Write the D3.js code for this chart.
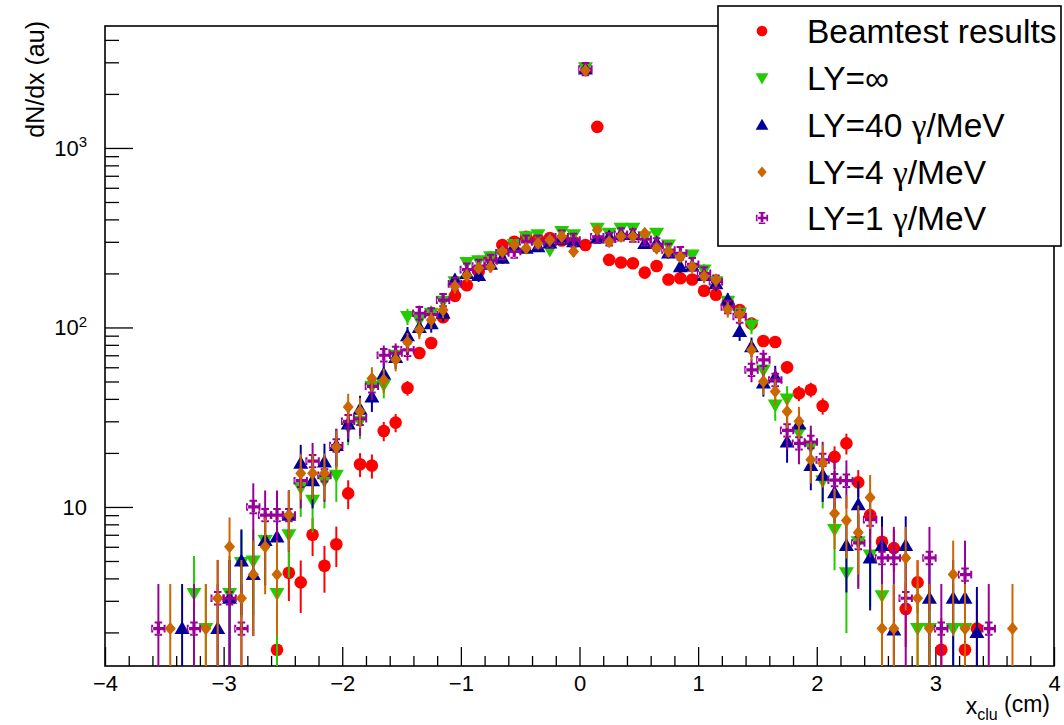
<!DOCTYPE html>
<html><head><meta charset="utf-8">
<script src="https://cdn.jsdelivr.net/npm/d3@7"></script>
<style>
body{margin:0;background:#fff}
svg{display:block}
text{font-family:"Liberation Sans",Arial,Helvetica,sans-serif;fill:#000}
</style>
</head><body>
<svg id="chart" width="1064" height="725"></svg>
<script>
// ---------------- DATA ----------------
const binCenters = [
 -3.55,-3.45,-3.35,-3.25,-3.15,-3.05,-2.95,-2.85,-2.75,-2.65,
 -2.55,-2.45,-2.35,-2.25,-2.15,-2.05,-1.95,-1.85,-1.75,-1.65,
 -1.55,-1.45,-1.35,-1.25,-1.15,-1.05,-0.95,-0.85,-0.75,-0.65,
 -0.55,-0.45,-0.35,-0.25,-0.15,-0.05, 0.05, 0.15, 0.25, 0.35,
  0.45, 0.55, 0.65, 0.75, 0.85, 0.95, 1.05, 1.15, 1.25, 1.35,
  1.45, 1.55, 1.65, 1.75, 1.85, 1.95, 2.05, 2.15, 2.25, 2.35,
  2.45, 2.55, 2.65, 2.75, 2.85, 2.95, 3.05, 3.15, 3.25, 3.35,
  3.45, 3.55, 3.65];

const beamtest = [
 null,null,null,null,null,null,null,null,null,null,
 1.6,4.3,3.8,7.0,4.7,6.2,11.9,17.3,17.0,26.5,
 29.5,46,72,82,114,150,172,205,245,288,
 300,320,310,315,305,300,288,1310,238,230,
 228,202,220,185,188,185,160,152,138,125,
 105,84,83,60,43,45,36.5,19,22.6,13.7,
 9.0,6.4,5.9,2.7,3.8,null,1.6,null,1.6,2.1,
 null,null,null];

const lyInfinite = [
 null,null,null,3.3,2.1,null,3.3,4.9,5,6.5,
 3.3,7,12.8,10.9,14,15,28,30,47,48,
 70,115,110,120,140,180,230,235,248,255,
 290,320,328,270,342,328,2800,357,335,357,
 357,320,335,288,245,253,209,180,140,120,
 103,58,37,40,26,21.7,14,7.5,4.3,6.4,
 5.4,3.2,null,null,2.1,2.1,null,2.1,2.1,null,
 null,null,null];

const ly40 = [
 null,null,2.1,null,null,2.1,3.1,5,4.2,6.5,
 6.8,9,17.5,14,17.8,22,29,35,41,55,
 68,90,100,105,120,184,200,195,225,243,
 285,276,282,295,310,300,2750,315,320,330,
 330,294,295,260,218,220,195,175,142,95,
 78,49,53,23,29,17,15,12,6.1,10.3,
 5.2,6.1,2.06,6.1,null,3.1,null,3.1,3.1,2.0,
 null,null,null];

const ly4 = [
 null,2.1,null,null,2.1,3.1,6,3.1,4.2,6,
 4.2,9,15.4,15.4,15.4,21.5,36,34,52,51,
 66,83,97,110,125,169,195,214,218,265,
 288,276,294,307,321,265,2700,349,300,321,
 321,335,276,265,248,218,192,184,126,118,
 75,50,44,34,30,18.3,17.5,9.2,8.4,7.2,
 11.3,2.1,2.1,5.2,3.1,2.1,null,4.2,2.1,null,
 null,null,2.1];

const ly1 = [
 2.1,null,null,2.1,null,3.1,3.1,2.1,10,9,
 9,9,14,18,15,22,30,31,47,70,
 72,75,120,118,142,175,210,220,235,260,
 265,300,300,300,320,307,2750,320,310,330,
 325,310,290,270,259,225,200,180,130,115,
 58,66,51,26.7,22.6,23,18.3,14.1,14,6.3,
 8.5,5.2,5.2,3.1,null,5.2,2.1,null,4.2,null,
 2.1,null,null];

const seriesNames = [
  ["Beamtest results"],
  ["LY=\u221E"],
  ["LY=40 ", "\u03B3", "/MeV"],
  ["LY=4 ", "\u03B3", "/MeV"],
  ["LY=1 ", "\u03B3", "/MeV"]];
const seriesColors = ["#ff0000","#22cc00","#000099","#cc6600","#990099"];
const seriesMarkers = ["circle","triDown","triUp","diamond","cross"];
// per-series event weight used for Poisson error bars (sigma = sqrt(w * value))
const seriesWeights = [0.4,1.25,1.25,1.25,1.25];
const seriesValues = [beamtest, lyInfinite, ly40, ly4, ly1];

const xMajorTicks = [-4,-3,-2,-1,0,1,2,3,4];
const xMinorTicks = [-3.8,-3.6,-3.4,-3.2,-2.8,-2.6,-2.4,-2.2,-1.8,-1.6,-1.4,-1.2,-0.8,-0.6,-0.4,-0.2,
                     0.2,0.4,0.6,0.8,1.2,1.4,1.6,1.8,2.2,2.4,2.6,2.8,3.2,3.4,3.6,3.8];
const yMajorTicks = [10,100,1000];
const yMajorBase = ["10","10","10"];
const yMajorExp = ["","2","3"];
const yMinorTicks = [2,3,4,5,6,7,8,9,20,30,40,50,60,70,80,90,200,300,400,500,600,700,800,900,2000,3000,4000];
const xDomain = [-4,4];
const yDomain = [1.3,4780];

// ---------------- LAYOUT ----------------
const frame = {l:105, r:1054, t:26, b:666};
const svg = d3.select("#chart");
const x = d3.scaleLinear().domain(xDomain).range([frame.l, frame.r]);
const y = d3.scaleLog().domain(yDomain).range([frame.b, frame.t]);

svg.append("defs").append("clipPath").attr("id","clip")
  .append("rect").attr("x",frame.l).attr("y",frame.t)
  .attr("width",frame.r-frame.l).attr("height",frame.b-frame.t);

// axes (ticks inward)
const gx = svg.append("g").attr("transform",`translate(0,${frame.b})`)
  .call(d3.axisBottom(x).tickValues(xMajorTicks).tickSize(-19).tickPadding(9)
        .tickFormat(d3.format("")));
gx.select(".domain").remove();
gx.selectAll("text").attr("font-size",22).attr("font-family","Liberation Sans, Arial, sans-serif");
gx.selectAll("line").attr("stroke","#000").attr("stroke-width",1.3);

const gxm = svg.append("g").attr("transform",`translate(0,${frame.b})`)
  .call(d3.axisBottom(x).tickValues(xMinorTicks).tickSize(-10).tickFormat(""));
gxm.select(".domain").remove();
gxm.selectAll("line").attr("stroke","#000").attr("stroke-width",1.3);

const gy = svg.append("g").attr("transform",`translate(${frame.l},0)`)
  .call(d3.axisLeft(y).tickValues(yMajorTicks).tickSize(-28).tickPadding(18).tickFormat(""));
gy.select(".domain").remove();
gy.selectAll("line").attr("stroke","#000").attr("stroke-width",1.3);
gy.selectAll(".tick").each(function(d,i){
  const t = d3.select(this).select("text")
    .attr("font-size",22).attr("font-family","Liberation Sans, Arial, sans-serif");
  t.text(null);
  t.append("tspan").text(yMajorBase[i]);
  if (yMajorExp[i]) t.append("tspan").attr("font-size",15).attr("dy","-0.55em").text(yMajorExp[i]);
});

const gym = svg.append("g").attr("transform",`translate(${frame.l},0)`)
  .call(d3.axisLeft(y).tickValues(yMinorTicks).tickSize(-14).tickFormat(""));
gym.select(".domain").remove();
gym.selectAll("line").attr("stroke","#000").attr("stroke-width",1.3);

// frame
svg.append("rect").attr("x",frame.l).attr("y",frame.t)
  .attr("width",frame.r-frame.l).attr("height",frame.b-frame.t)
  .attr("fill","none").attr("stroke","#000").attr("stroke-width",1.6);

// axis titles
svg.append("text").attr("transform",`translate(44,21) rotate(-90)`)
  .attr("text-anchor","end").attr("font-size",25).text("dN/dx (au)");
const xt = svg.append("text").attr("x",1050).attr("y",714).attr("text-anchor","end").attr("font-size",23);
xt.append("tspan").text("x");
xt.append("tspan").attr("font-size",16).attr("dy","0.35em").text("clu");
xt.append("tspan").attr("dy","-0.35em").text(" (cm)");

// ---------------- MARKERS ----------------
function markerPath(kind){
  switch(kind){
    case "circle": return d3.symbol().type(d3.symbolCircle).size(Math.PI*6.3*6.3)();
    case "triUp": return "M0,-7.5L7.5,5.5L-7.5,5.5Z";
    case "triDown": return "M0,7.5L7.5,-5.5L-7.5,-5.5Z";
    case "diamond": return "M0,-6.5L5.5,0L0,6.5L-5.5,0Z";
    case "cross": return "M-1.6,-6L1.6,-6L1.6,-1.6L6,-1.6L6,1.6L1.6,1.6L1.6,6L-1.6,6L-1.6,1.6L-6,1.6L-6,-1.6L-1.6,-1.6Z"
                        + "M-3.8,-7.2L3.8,-7.2L3.8,-5.2L-3.8,-5.2Z M-3.8,7.2L3.8,7.2L3.8,5.2L-3.8,5.2Z"
                        + "M-7.2,-3.8L-7.2,3.8L-5.2,3.8L-5.2,-3.8Z M7.2,-3.8L7.2,3.8L5.2,3.8L5.2,-3.8Z";
  }
}

const drawOrder = [0,1,2,4,3];
const plot = svg.append("g").attr("clip-path","url(#clip)");
drawOrder.forEach(si=>{
  const vals = seriesValues[si];
  const pts = binCenters.map((b,i)=>({x:b, v:vals[i]})).filter(p=>p.v!==null);
  const g = plot.append("g");
  g.selectAll("line").data(pts).join("line")
    .attr("x1",p=>x(p.x)).attr("x2",p=>x(p.x))
    .attr("y1",p=>{const e=Math.sqrt(seriesWeights[si]*p.v); return y(p.v+e);})
    .attr("y2",p=>{const e=Math.sqrt(seriesWeights[si]*p.v); const lo=p.v-e; return lo>yDomain[0]?y(lo):frame.b+5;})
    .attr("stroke",seriesColors[si]).attr("stroke-width",2);
  g.selectAll("path").data(pts).join("path")
    .attr("d",markerPath(seriesMarkers[si]))
    .attr("transform",p=>`translate(${x(p.x)},${y(p.v)})`)
    .attr("fill",seriesColors[si]);
});

// ---------------- LEGEND ----------------
const leg = svg.append("g");
leg.append("rect").attr("x",718).attr("y",6).attr("width",343).attr("height",240)
  .attr("fill","#fff").attr("stroke","#000").attr("stroke-width",1.6);
const legRows = [31,78,125,172,218];
seriesNames.forEach((parts,i)=>{
  leg.append("path").attr("d",markerPath(seriesMarkers[i]))
    .attr("transform",`translate(762,${legRows[i]}) scale(0.85)`).attr("fill",seriesColors[i]);
  const t = leg.append("text").attr("x",807).attr("y",legRows[i]).attr("dy","0.36em")
    .attr("font-size",33.5);
  parts.forEach(p=>{
    const s = t.append("tspan").text(p);
    if (p === "\u03B3") s.attr("font-family","Liberation Serif, Times New Roman, serif");
  });
});
</script>
</body></html>
